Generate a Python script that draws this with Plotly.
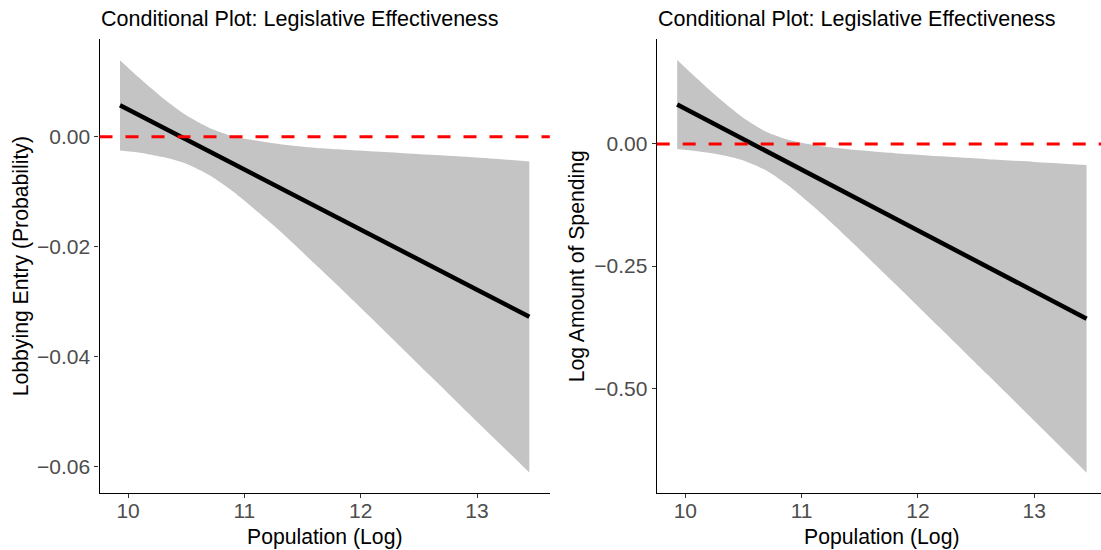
import plotly.graph_objects as go

# ---- data ----
pop_log = [9.93, 10.1, 10.3, 10.5, 10.7, 10.9, 11.1, 11.25, 11.4, 11.6, 11.8, 12.2, 12.6, 13.0, 13.45]

entry_est = [0.0057, 0.0039, 0.0017, -0.0005, -0.0027, -0.0049, -0.0071, -0.0087, -0.0103, -0.0125, -0.0147, -0.0190, -0.0234, -0.0278, -0.0327]
entry_upper = [0.0139, 0.0106, 0.0070, 0.0039, 0.0016, 0.0001, -0.0007, -0.0012, -0.0016, -0.0020, -0.0023, -0.0028, -0.0033, -0.0038, -0.0045]
entry_lower = [-0.0025, -0.0029, -0.0037, -0.0049, -0.0070, -0.0099, -0.0134, -0.0161, -0.0190, -0.0230, -0.0270, -0.0352, -0.0435, -0.0518, -0.0610]

spend_est = [0.0807, 0.0595, 0.0346, 0.0097, -0.0152, -0.0401, -0.0650, -0.0837, -0.1024, -0.1273, -0.1522, -0.2021, -0.2519, -0.3017, -0.3578]
spend_upper = [0.1719, 0.1340, 0.0913, 0.0531, 0.0243, 0.0073, -0.0022, -0.0070, -0.0110, -0.0152, -0.0189, -0.0254, -0.0312, -0.0368, -0.0429]
spend_lower = [-0.0105, -0.0150, -0.0221, -0.0337, -0.0547, -0.0875, -0.1278, -0.1600, -0.1938, -0.2395, -0.2856, -0.3788, -0.4726, -0.5666, -0.6728]

x_ticks = [10, 11, 12, 13]
entry_ticks = [-0.06, -0.04, -0.02, 0.00]
spend_ticks = [-0.50, -0.25, 0.00]
reference_value = 0.0

title_text = "Conditional Plot: Legislative Effectiveness"
x_title = "Population (Log)"
left_y_title = "Lobbying Entry (Probability)"
right_y_title = "Log Amount of Spending"

# ---- figure ----
W, H = 1101, 550
FONT = "Liberation Sans, Arial, sans-serif"
RIBBON = "rgb(196,196,196)"

fig = go.Figure()

def add_panel(xa, ya, est, up, lo):
    fig.add_trace(go.Scatter(x=pop_log, y=lo, xaxis=xa, yaxis=ya, mode="lines",
                             line=dict(width=0, shape="spline", smoothing=0.7, color=RIBBON),
                             showlegend=False, hoverinfo="skip"))
    fig.add_trace(go.Scatter(x=pop_log, y=up, xaxis=xa, yaxis=ya, mode="lines",
                             line=dict(width=0, shape="spline", smoothing=0.7, color=RIBBON),
                             fill="tonexty", fillcolor=RIBBON,
                             showlegend=False, hoverinfo="skip"))
    fig.add_trace(go.Scatter(x=pop_log, y=est, xaxis=xa, yaxis=ya, mode="lines",
                             line=dict(width=4.5, color="black"),
                             showlegend=False))
    xref = "x" if xa == "x" else "x2"
    yref = "y" if ya == "y" else "y2"
    fig.add_shape(type="line", xref=xref + " domain", yref=yref,
                  x0=0, x1=1, y0=reference_value, y1=reference_value,
                  line=dict(color="red", width=3, dash="13px,13px"), layer="above")

add_panel("x", "y", entry_est, entry_upper, entry_lower)
add_panel("x2", "y2", spend_est, spend_upper, spend_lower)

def px_x(p):
    return p / W

def px_y(p):
    return 1 - p / H

top, bottom = 39.3, 493.3
l1, r1 = 99.5, 549.8
l2, r2 = 656.7, 1101

axis_common = dict(showgrid=False, zeroline=False, showline=True, linecolor="black",
                   linewidth=1.2, ticks="outside", ticklen=4, tickwidth=1.1,
                   tickcolor="#333333",
                   tickfont=dict(family=FONT, size=21, color="#4D4D4D"))

fig.update_layout(
    width=W, height=H, margin=dict(l=0, r=0, t=0, b=0),
    plot_bgcolor="white", paper_bgcolor="white", showlegend=False,
    xaxis=dict(domain=[px_x(l1), px_x(r1)], range=[9.754, 13.626], tickvals=x_ticks,
               anchor="y", ticklabelstandoff=-6, **axis_common),
    yaxis=dict(domain=[px_y(bottom), px_y(top)], range=[-0.0648, 0.0177],
               tickvals=entry_ticks, tickformat=".2f", anchor="x", **axis_common),
    xaxis2=dict(domain=[px_x(l2), px_x(r2)], range=[9.754, 13.574], tickvals=x_ticks,
                anchor="y2", ticklabelstandoff=-6, **axis_common),
    yaxis2=dict(domain=[px_y(bottom), px_y(top)], range=[-0.7150, 0.2141],
                tickvals=spend_ticks, tickformat=".2f", anchor="x2", **axis_common),
)

title_font = dict(family=FONT, size=21.5, color="black")
ann_font = dict(family=FONT, size=21.2, color="black")
anns = [
    dict(text=title_text, x=px_x(l1 - 1), y=px_y(18.5), xanchor="left", yanchor="middle", font=title_font),
    dict(text=title_text, x=px_x(l2 - 1), y=px_y(18.5), xanchor="left", yanchor="middle", font=title_font),
    dict(text=x_title, x=px_x((l1 + r1) / 2), y=px_y(536.5), xanchor="center", yanchor="middle", font=ann_font),
    dict(text=x_title, x=px_x((l2 + 1106.7) / 2), y=px_y(536.5), xanchor="center", yanchor="middle", font=ann_font),
    dict(text=left_y_title, x=px_x(21), y=px_y((top + bottom) / 2), xanchor="center",
         yanchor="middle", textangle=-90, font=ann_font),
    dict(text=right_y_title, x=px_x(577), y=px_y((top + bottom) / 2), xanchor="center",
         yanchor="middle", textangle=-90, font=ann_font),
]
for a in anns:
    fig.add_annotation(xref="paper", yref="paper", showarrow=False, **a)

fig.write_html("out.html")
